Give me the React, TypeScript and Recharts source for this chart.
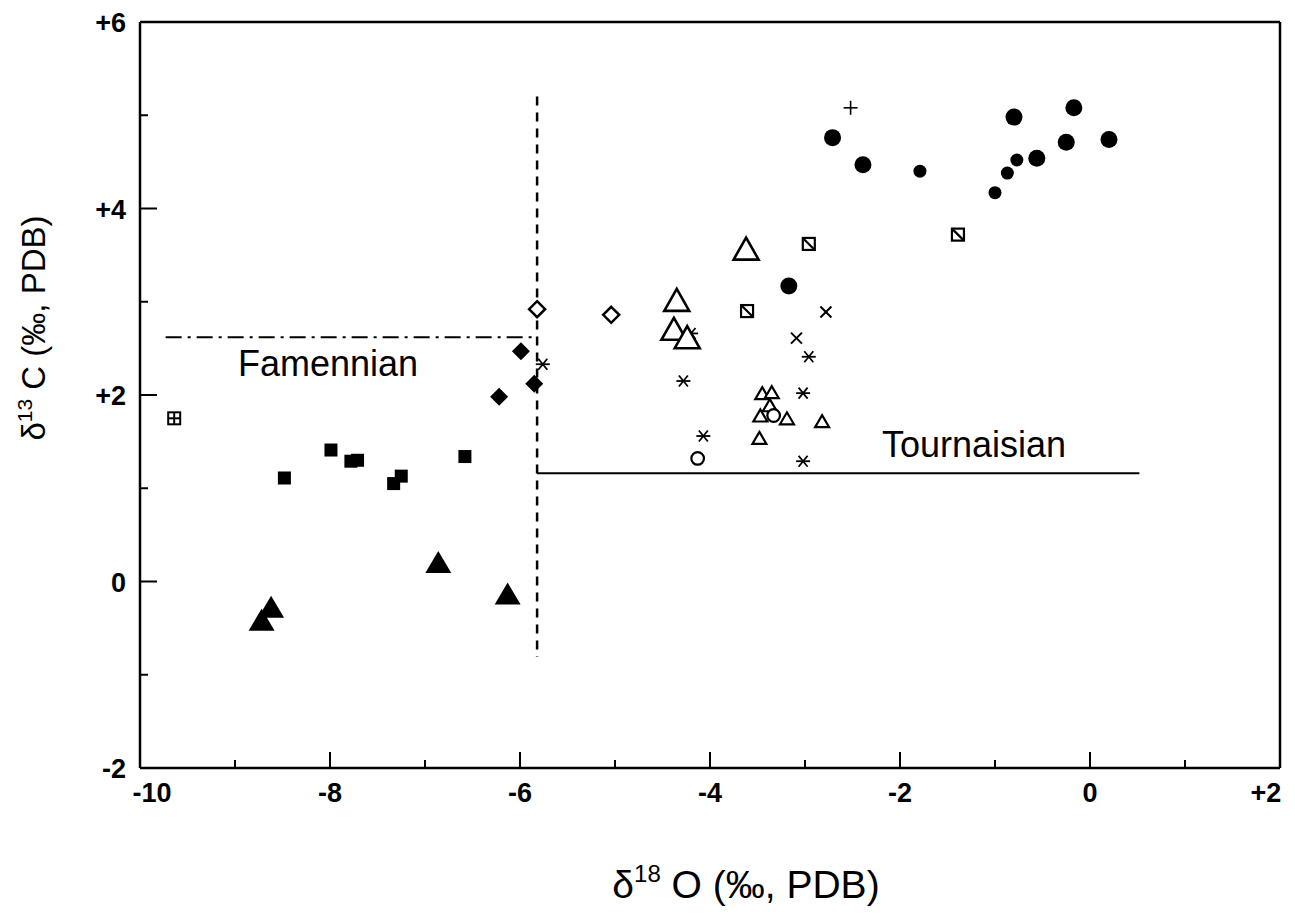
import React from 'react';
import { ScatterChart, Scatter, XAxis, YAxis, ReferenceLine, Label } from 'recharts';

// ---- axis ticks ----
const xTicks = [-10, -9, -8, -7, -6, -5, -4, -3, -2, -1, 0, 1, 2];
const yTicks = [-2, -1, 0, 1, 2, 3, 4, 5, 6];
const xTickValues = [-10, -8, -6, -4, -2, 0, 2];
const xTickText = ['-10', '-8', '-6', '-4', '-2', '0', '+2'];
const yTickValues = [-2, 0, 2, 4, 6];
const yTickText = ['-2', '0', '+2', '+4', '+6'];

// ---- series ----
const bigFilledCircles = [
  { x: -2.71, y: 4.76 }, { x: -2.39, y: 4.47 }, { x: -0.8, y: 4.98 }, { x: -0.17, y: 5.08 },
  { x: -0.56, y: 4.54 }, { x: -0.25, y: 4.71 }, { x: 0.2, y: 4.74 }, { x: -3.17, y: 3.17 },
];
const smallFilledCircles = [
  { x: -1.79, y: 4.4 }, { x: -1.0, y: 4.17 }, { x: -0.87, y: 4.38 }, { x: -0.77, y: 4.52 },
];
const plusPoints = [{ x: -2.52, y: 5.08 }];
const diagSquares = [{ x: -2.96, y: 3.62 }, { x: -1.39, y: 3.72 }, { x: -3.61, y: 2.9 }];
const crossPoints = [{ x: -2.78, y: 2.89 }, { x: -3.09, y: 2.61 }];
const asteriskPoints = [
  { x: -5.76, y: 2.33 }, { x: -4.28, y: 2.15 }, { x: -2.96, y: 2.41 }, { x: -3.02, y: 2.02 },
  { x: -4.07, y: 1.56 }, { x: -3.02, y: 1.29 }, { x: -4.2, y: 2.66 },
];
const bigOpenTriangles = [
  { x: -3.62, y: 3.57 }, { x: -4.35, y: 3.02 }, { x: -4.38, y: 2.71 }, { x: -4.24, y: 2.62 },
];
const smallOpenTriangles = [
  { x: -3.45, y: 2.02 }, { x: -3.35, y: 2.03 }, { x: -3.37, y: 1.89 }, { x: -3.47, y: 1.78 },
  { x: -3.19, y: 1.75 }, { x: -2.82, y: 1.72 }, { x: -3.48, y: 1.54 },
];
const openCircles = [{ x: -3.33, y: 1.78 }, { x: -4.13, y: 1.32 }];
const openDiamonds = [{ x: -5.82, y: 2.92 }, { x: -5.04, y: 2.86 }];
const filledDiamonds = [{ x: -5.99, y: 2.47 }, { x: -5.85, y: 2.12 }, { x: -6.22, y: 1.98 }];
const filledSquares = [
  { x: -8.48, y: 1.11 }, { x: -7.99, y: 1.41 }, { x: -7.78, y: 1.29 }, { x: -7.71, y: 1.3 },
  { x: -7.33, y: 1.05 }, { x: -7.25, y: 1.13 }, { x: -6.58, y: 1.34 },
];
const boxPlusPoints = [{ x: -9.64, y: 1.75 }];
const filledTriangles = [
  { x: -8.62, y: -0.27 }, { x: -8.72, y: -0.41 }, { x: -6.86, y: 0.21 }, { x: -6.13, y: -0.13 },
];

// ---- annotations ----
const famennianLabel = [{ x: -8.02, y: 2.34, text: 'Famennian' }];
const tournaisianLabel = [{ x: -1.22, y: 1.47, text: 'Tournaisian' }];
const famennianLine = [{ x: -9.73, y: 2.62 }, { x: -5.82, y: 2.62 }];
const boundaryLine = [{ x: -5.82, y: 5.2 }, { x: -5.82, y: -0.81 }];
const tournaisianLine = [{ x: -5.82, y: 1.16 }, { x: 0.52, y: 1.16 }];

const FONT = 'Liberation Sans, Arial, Helvetica, sans-serif';
const K = '#000';

const XTick = (props: any) => {
  const { x, y, payload } = props;
  const v = payload.value;
  const idx = xTickValues.indexOf(v);
  const major = idx >= 0;
  let dx = 0;
  if (v === -10) dx = 12;
  if (v === 2) dx = -14;
  return (
    <g>
      <line x1={x} x2={x} y1={y} y2={y - (major ? 16 : 8)} stroke={K} strokeWidth={2} />
      {major && (
        <text x={x + dx} y={y + 34} textAnchor="middle" fontSize={27} fontWeight="bold" fontFamily={FONT} fill={K}>
          {xTickText[idx]}
        </text>
      )}
    </g>
  );
};

const YTick = (props: any) => {
  const { x, y, payload } = props;
  const v = payload.value;
  const idx = yTickValues.indexOf(v);
  const major = idx >= 0;
  return (
    <g>
      <line x1={x} x2={x + (major ? 17 : 8)} y1={y} y2={y} stroke={K} strokeWidth={2} />
      {major && (
        <text x={x - 14} y={y + 10} textAnchor="end" fontSize={27} fontWeight="bold" fontFamily={FONT} fill={K}>
          {yTickText[idx]}
        </text>
      )}
    </g>
  );
};

const tri = (cx: number, cy: number, w: number, h: number) =>
  `${cx - w / 2},${cy + h / 2} ${cx + w / 2},${cy + h / 2} ${cx},${cy - h / 2}`;

const BigDot = (p: any) => <circle cx={p.cx} cy={p.cy} r={8.5} fill={K} />;
const SmallDot = (p: any) => <circle cx={p.cx} cy={p.cy} r={6.5} fill={K} />;
const PlusMark = (p: any) => (
  <g stroke={K} strokeWidth={1.6}>
    <line x1={p.cx - 7} x2={p.cx + 7} y1={p.cy} y2={p.cy} />
    <line x1={p.cx} x2={p.cx} y1={p.cy - 7} y2={p.cy + 7} />
  </g>
);
const DiagSquare = (p: any) => (
  <g stroke={K} strokeWidth={2.2} fill="#fff">
    <rect x={p.cx - 6} y={p.cy - 6} width={12} height={12} />
    <line x1={p.cx - 6} y1={p.cy - 6} x2={p.cx + 6} y2={p.cy + 6} />
  </g>
);
const CrossMark = (p: any) => (
  <g stroke={K} strokeWidth={2}>
    <line x1={p.cx - 5.5} x2={p.cx + 5.5} y1={p.cy - 5.5} y2={p.cy + 5.5} />
    <line x1={p.cx - 5.5} x2={p.cx + 5.5} y1={p.cy + 5.5} y2={p.cy - 5.5} />
  </g>
);
const AsteriskMark = (p: any) => (
  <g stroke={K} strokeWidth={1.8}>
    <line x1={p.cx - 7} x2={p.cx + 7} y1={p.cy} y2={p.cy} />
    <line x1={p.cx - 4.5} x2={p.cx + 4.5} y1={p.cy - 5.5} y2={p.cy + 5.5} />
    <line x1={p.cx - 4.5} x2={p.cx + 4.5} y1={p.cy + 5.5} y2={p.cy - 5.5} />
  </g>
);
const BigOpenTri = (p: any) => (
  <polygon points={tri(p.cx, p.cy, 25, 22)} fill="#fff" stroke={K} strokeWidth={2.6} strokeLinejoin="miter" />
);
const SmallOpenTri = (p: any) => (
  <polygon points={tri(p.cx, p.cy, 14, 12)} fill="#fff" stroke={K} strokeWidth={2.2} />
);
const OpenCircle = (p: any) => <circle cx={p.cx} cy={p.cy} r={6.3} fill="#fff" stroke={K} strokeWidth={2.2} />;
const OpenDiamond = (p: any) => (
  <polygon
    points={`${p.cx},${p.cy - 8} ${p.cx + 8},${p.cy} ${p.cx},${p.cy + 8} ${p.cx - 8},${p.cy}`}
    fill="#fff"
    stroke={K}
    strokeWidth={2.5}
  />
);
const FilledDiamond = (p: any) => (
  <polygon points={`${p.cx},${p.cy - 9} ${p.cx + 9},${p.cy} ${p.cx},${p.cy + 9} ${p.cx - 9},${p.cy}`} fill={K} />
);
const FilledSquare = (p: any) => <rect x={p.cx - 6.5} y={p.cy - 6.5} width={13} height={13} fill={K} />;
const BoxPlus = (p: any) => (
  <g stroke={K} strokeWidth={2} fill="#fff">
    <rect x={p.cx - 6} y={p.cy - 6} width={12} height={12} />
    <line x1={p.cx - 6} x2={p.cx + 6} y1={p.cy} y2={p.cy} />
    <line x1={p.cx} x2={p.cx} y1={p.cy - 6} y2={p.cy + 6} />
  </g>
);
const FilledTri = (p: any) => <polygon points={tri(p.cx, p.cy, 26, 22)} fill={K} />;
const TextMark = (p: any) => (
  <text x={p.cx} y={p.cy + 13} textAnchor="middle" fontSize={36} fontFamily={FONT} fill={K}>
    {p.payload.text}
  </text>
);

const XLabel = (props: any) => {
  const vb = props.viewBox;
  const cx = vb.x + vb.width / 2 + 36;
  return (
    <text x={cx} y={vb.y + 130} textAnchor="middle" fontSize={39} fontFamily={FONT} fill={K}>
      δ<tspan fontSize={24} dy={-16}>18</tspan>
      <tspan dy={16}> O (‰, PDB)</tspan>
    </text>
  );
};

const YLabel = (props: any) => {
  const cy = 320;
  const x = 37;
  return (
    <text x={x} y={cy} textAnchor="middle" fontSize={33} fontFamily={FONT} fill={K} transform={`rotate(-90, ${x}, ${cy})`}>
      δ<tspan fontSize={21} dy={-13}>13</tspan>
      <tspan dy={13}> C (‰, PDB)</tspan>
    </text>
  );
};

export default function App() {
  return (
    <div style={{ background: '#fff' }}>
      <ScatterChart width={1279} height={900} margin={{ top: 14, right: 7, bottom: 0, left: 0 }}>
        <XAxis
          type="number"
          dataKey="x"
          domain={[-10, 2]}
          ticks={xTicks}
          interval={0}
          tick={<XTick />}
          tickLine={false}
          tickSize={0}
          tickMargin={0}
          height={140}
          axisLine={{ stroke: K, strokeWidth: 2.5 }}
          allowDataOverflow
        >
          <Label content={<XLabel />} />
        </XAxis>
        <YAxis
          type="number"
          dataKey="y"
          domain={[-2, 6]}
          ticks={yTicks}
          interval={0}
          tick={<YTick />}
          tickLine={false}
          tickSize={0}
          tickMargin={0}
          width={132}
          axisLine={{ stroke: K, strokeWidth: 2.5 }}
          allowDataOverflow
        >
          <Label content={<YLabel />} />
        </YAxis>
        <ReferenceLine y={6} stroke={K} strokeWidth={2.5} />
        <ReferenceLine x={2} stroke={K} strokeWidth={2.5} />
        <ReferenceLine segment={famennianLine} stroke={K} strokeWidth={2} strokeDasharray="16 6 3 6" />
        <ReferenceLine segment={boundaryLine} stroke={K} strokeWidth={2.5} strokeDasharray="9 7" />
        <ReferenceLine segment={tournaisianLine} stroke={K} strokeWidth={2} />

        <Scatter data={famennianLabel} shape={TextMark} isAnimationActive={false} />
        <Scatter data={tournaisianLabel} shape={TextMark} isAnimationActive={false} />
        <Scatter data={asteriskPoints} shape={AsteriskMark} isAnimationActive={false} />
        <Scatter data={crossPoints} shape={CrossMark} isAnimationActive={false} />
        <Scatter data={plusPoints} shape={PlusMark} isAnimationActive={false} />
        <Scatter data={bigOpenTriangles} shape={BigOpenTri} isAnimationActive={false} />
        <Scatter data={smallOpenTriangles} shape={SmallOpenTri} isAnimationActive={false} />
        <Scatter data={openCircles} shape={OpenCircle} isAnimationActive={false} />
        <Scatter data={diagSquares} shape={DiagSquare} isAnimationActive={false} />
        <Scatter data={openDiamonds} shape={OpenDiamond} isAnimationActive={false} />
        <Scatter data={filledDiamonds} shape={FilledDiamond} isAnimationActive={false} />
        <Scatter data={filledSquares} shape={FilledSquare} isAnimationActive={false} />
        <Scatter data={boxPlusPoints} shape={BoxPlus} isAnimationActive={false} />
        <Scatter data={filledTriangles} shape={FilledTri} isAnimationActive={false} />
        <Scatter data={bigFilledCircles} shape={BigDot} isAnimationActive={false} />
        <Scatter data={smallFilledCircles} shape={SmallDot} isAnimationActive={false} />
      </ScatterChart>
    </div>
  );
}
